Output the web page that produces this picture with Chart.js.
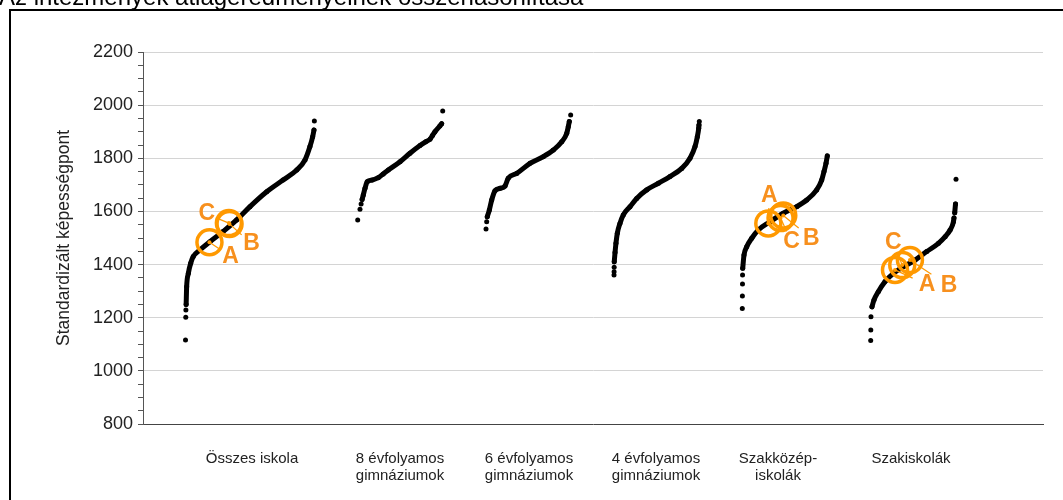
<!DOCTYPE html>
<html>
<head>
<meta charset="utf-8">
<script src="https://cdn.jsdelivr.net/npm/chart.js@4.4.1/dist/chart.umd.min.js"></script>
<style>
html,body{margin:0;padding:0;background:#fff;}
#wrap{position:relative;width:1063px;height:500px;overflow:hidden;}
canvas{display:block;}
</style>
</head>
<body>
<div id="wrap"><canvas id="c" width="1063" height="500"></canvas></div>
<script>
// ---------- DATA ----------
const titleText = 'Az intézmények átlageredményeinek összehasonlítása';
const yAxisTitle = 'Standardizált képességpont';
const categories = [
  ['Összes iskola'],
  ['8 évfolyamos', 'gimnáziumok'],
  ['6 évfolyamos', 'gimnáziumok'],
  ['4 évfolyamos', 'gimnáziumok'],
  ['Szakközép-', 'iskolák'],
  ['Szakiskolák']
];
const yMajorTicks = [800, 1000, 1200, 1400, 1600, 1800, 2000, 2200];

// [percentile rank within the group (0-100), standardized score]; null = gap
const osszesIskola = [
  [0, 1116], null, [0.2, 1202], null, [0.3, 1229], null,
  [0.5, 1250], [0.9, 1317], [2.2, 1367], [4.0, 1405], [6.0, 1430], [11.2, 1455], [18.9, 1486],
  [29.0, 1524], [39.5, 1568], [49.8, 1618], [62.7, 1674], [75.3, 1718], [85.9, 1756],
  [92.3, 1794], [96.1, 1844], [98.2, 1881], [99.2, 1906], null,
  [99.5, 1940]
];
const evf8Gimn = [
  [0, 1568], null, [2.7, 1608], null, [4.0, 1628], null,
  [5.2, 1645], [6.6, 1662], [8.6, 1687], [11.3, 1712], [17, 1718], [24.2, 1727], [30, 1741],
  [36, 1756], [49.8, 1787], [61.5, 1819], [73.3, 1848], [80, 1862], [85.1, 1872], [88, 1886],
  [90.9, 1900], [96.8, 1922], [98.8, 1930], null,
  [100, 1978]
];
const evf6Gimn = [
  [0, 1534], null, [0.8, 1561], null,
  [1.5, 1580], [3.9, 1605], [6.7, 1643], [10.6, 1678], [16.5, 1687], [22.4, 1696], [26.2, 1725],
  [36.1, 1743], [51.8, 1781], [67.4, 1806], [79.2, 1831], [89.1, 1862], [95, 1894], [96.8, 1919],
  [98, 1938], null,
  [99.6, 1963]
];
const evf4Gimn = [
  [0, 1361], null, [0.1, 1373], null, [0.2, 1390], null,
  [0.3, 1411], [1.2, 1445], [2.3, 1480], [3.9, 1518], [7, 1555], [10.9, 1587], [18.8, 1618],
  [26.6, 1649], [38.3, 1681], [52, 1706], [65.6, 1731], [79.4, 1762], [89.1, 1800], [95, 1844],
  [97.7, 1881], [99.3, 1913], [99.6, 1925], null,
  [100, 1938]
];
const szakkozep = [
  [0, 1235], null, [0.1, 1282], null, [0.2, 1327], null, [0.3, 1361], null,
  [0.5, 1386], [2, 1436], [5.2, 1467], [11.1, 1499], [18.8, 1530], [32.6, 1561], [48.2, 1593],
  [64, 1618], [75.8, 1643], [87.5, 1681], [93.4, 1718], [96.1, 1750], [98.5, 1781], [100, 1809]
];
const szakiskola = [
  [0, 1114], null, [0.1, 1154], null, [0.3, 1204], null,
  [1.5, 1241], [3.9, 1267], [8.9, 1298], [16.8, 1336], [26.6, 1367], [38.3, 1392], [52, 1417],
  [65.7, 1449], [79.4, 1480], [87.3, 1505], [93.1, 1530], [97, 1561], [97.6, 1575], null,
  [98.5, 1595], [99.4, 1628], null,
  [100, 1721]
];
const groupSeries = [osszesIskola, evf8Gimn, evf6Gimn, evf4Gimn, szakkozep, szakiskola];

// highlighted schools: [percentile rank, score] in the groups listed in markerGroups
const schoolNames = ['A', 'B', 'C'];
const markerGroups = [0, 4, 5];
const schoolA = [[18.5, 1484], [30.6, 1555], [28.5, 1380]];
const schoolB = [[34, 1553], [48.2, 1585], [46, 1417]];
const schoolC = [[33.5, 1556], [45, 1575], [37, 1398]];
const schoolSeries = [schoolA, schoolB, schoolC];

// ---------- LAYOUT / STYLE ----------
const groupStart = [42.5, 214.7, 343, 471, 599.3, 727.7];
const groupWidth = [129.5, 85, 85, 85.3, 85, 85.3];
const categoryLabelPos = [109, 257, 386, 513, 635, 768];
const labelOffsets = {
  A: [[21, 14], [1, -28], [32, 15]],
  B: [[22, 20], [28, 23], [39, 26]],
  C: [[-22, -9], [11, 24], [-9, -22]]
};
const ORANGE = '#FF9900';
const FONT = "'Liberation Sans', Arial, sans-serif";

function toPoints(pairs, g) {
  let lastX = groupStart[g];
  return pairs.map(p => {
    if (!p) return { x: lastX, y: null };
    lastX = groupStart[g] + p[0] * groupWidth[g] / 100;
    return { x: lastX, y: p[1] };
  });
}

const datasets = [];
schoolSeries.forEach((s, k) => {
  datasets.push({
    label: schoolNames[k],
    data: s.map((p, i) => ({ x: groupStart[markerGroups[i]] + p[0] * groupWidth[markerGroups[i]] / 100, y: p[1] })),
    showLine: false,
    pointRadius: 12.5,
    pointBorderWidth: 3.5,
    pointBorderColor: ORANGE,
    pointBackgroundColor: 'rgba(0,0,0,0)',
    order: 0,
    isMarker: true
  });
});
groupSeries.forEach((s, g) => {
  datasets.push({
    label: categories[g].join(' '),
    data: toPoints(s, g),
    showLine: true,
    spanGaps: false,
    borderColor: '#000',
    borderWidth: 5,
    borderCapStyle: 'round',
    borderJoinStyle: 'round',
    cubicInterpolationMode: 'monotone',
    pointRadius: 2.5,
    pointBorderWidth: 0,
    pointBackgroundColor: '#000',
    pointBorderColor: '#000',
    order: 1
  });
});

const framePlugin = {
  id: 'frame',
  beforeDraw(chart) {
    const ctx = chart.ctx;
    ctx.save();
    ctx.fillStyle = '#fff';
    ctx.fillRect(0, 0, chart.width, chart.height);
    ctx.fillStyle = '#000';
    ctx.font = '24px ' + FONT;
    ctx.textBaseline = 'alphabetic';
    ctx.textAlign = 'left';
    ctx.fillText(titleText, -1, 4.5);
    ctx.fillRect(9, 9, chart.width - 9, 2);
    ctx.fillRect(9, 9, 2, chart.height - 9);
    ctx.restore();
  }
};

const markerPlugin = {
  id: 'markers',
  afterDatasetsDraw(chart) {
    const ctx = chart.ctx;
    ctx.save();
    chart.data.datasets.forEach((ds, di) => {
      if (!ds.isMarker) return;
      const meta = chart.getDatasetMeta(di);
      meta.data.forEach((el, i) => {
        const off = labelOffsets[ds.label][i];
        ctx.strokeStyle = ORANGE;
        ctx.lineWidth = 1.2;
        ctx.beginPath();
        ctx.moveTo(el.x, el.y);
        ctx.lineTo(el.x + off[0] * 0.55, el.y + off[1] * 0.55);
        ctx.stroke();
        ctx.fillStyle = ORANGE;
        ctx.beginPath();
        ctx.arc(el.x, el.y, 2, 0, Math.PI * 2);
        ctx.fill();
        ctx.font = 'bold 23px ' + FONT;
        ctx.textAlign = 'center';
        ctx.textBaseline = 'middle';
        ctx.fillStyle = '#F7901E';
        ctx.fillText(ds.label, el.x + off[0], el.y + off[1]);
      });
    });
    ctx.restore();
  }
};

new Chart(document.getElementById('c'), {
  type: 'scatter',
  data: { datasets },
  plugins: [framePlugin, markerPlugin],
  options: {
    responsive: false,
    animation: false,
    devicePixelRatio: 1,
    events: [],
    layout: { padding: { left: 0, right: 20, top: 52, bottom: 0 } },
    plugins: { legend: { display: false }, tooltip: { enabled: false } },
    scales: {
      x: {
        type: 'linear',
        min: 0,
        max: 900,
        position: 'bottom',
        afterBuildTicks: s => { s.ticks = categoryLabelPos.map(v => ({ value: v })); },
        afterFit: s => { s.height = 76; },
        grid: { display: false, drawTicks: false },
        border: { display: true, color: '#444', width: 1 },
        ticks: {
          autoSkip: false,
          maxRotation: 0,
          padding: 26,
          color: '#222',
          font: { family: FONT, size: 15, lineHeight: 1.15 },
          callback: (v, i) => categories[i]
        }
      },
      y: {
        type: 'linear',
        min: yMajorTicks[0],
        max: yMajorTicks[yMajorTicks.length - 1],
        afterBuildTicks: s => {
          const t = [];
          for (let v = yMajorTicks[0]; v <= yMajorTicks[yMajorTicks.length - 1]; v += 50) t.push({ value: v });
          s.ticks = t;
        },
        afterFit: s => { s.width = 143; },
        grid: {
          color: c => (c.tick && yMajorTicks.includes(c.tick.value) && c.tick.value !== yMajorTicks[0]) ? '#d4d4d4' : 'rgba(0,0,0,0)',
          tickColor: '#555',
          tickLength: 5,
          lineWidth: 1
        },
        border: { display: true, color: '#555', width: 1 },
        ticks: {
          autoSkip: false,
          padding: 5,
          color: '#222',
          font: { family: FONT, size: 18 },
          callback: v => yMajorTicks.includes(v) ? String(v) : ''
        },
        title: {
          display: true,
          text: yAxisTitle,
          color: '#222',
          font: { family: FONT, size: 17.5 },
          padding: { top: 54, bottom: 0 }
        }
      }
    }
  }
});
</script>
</body>
</html>
